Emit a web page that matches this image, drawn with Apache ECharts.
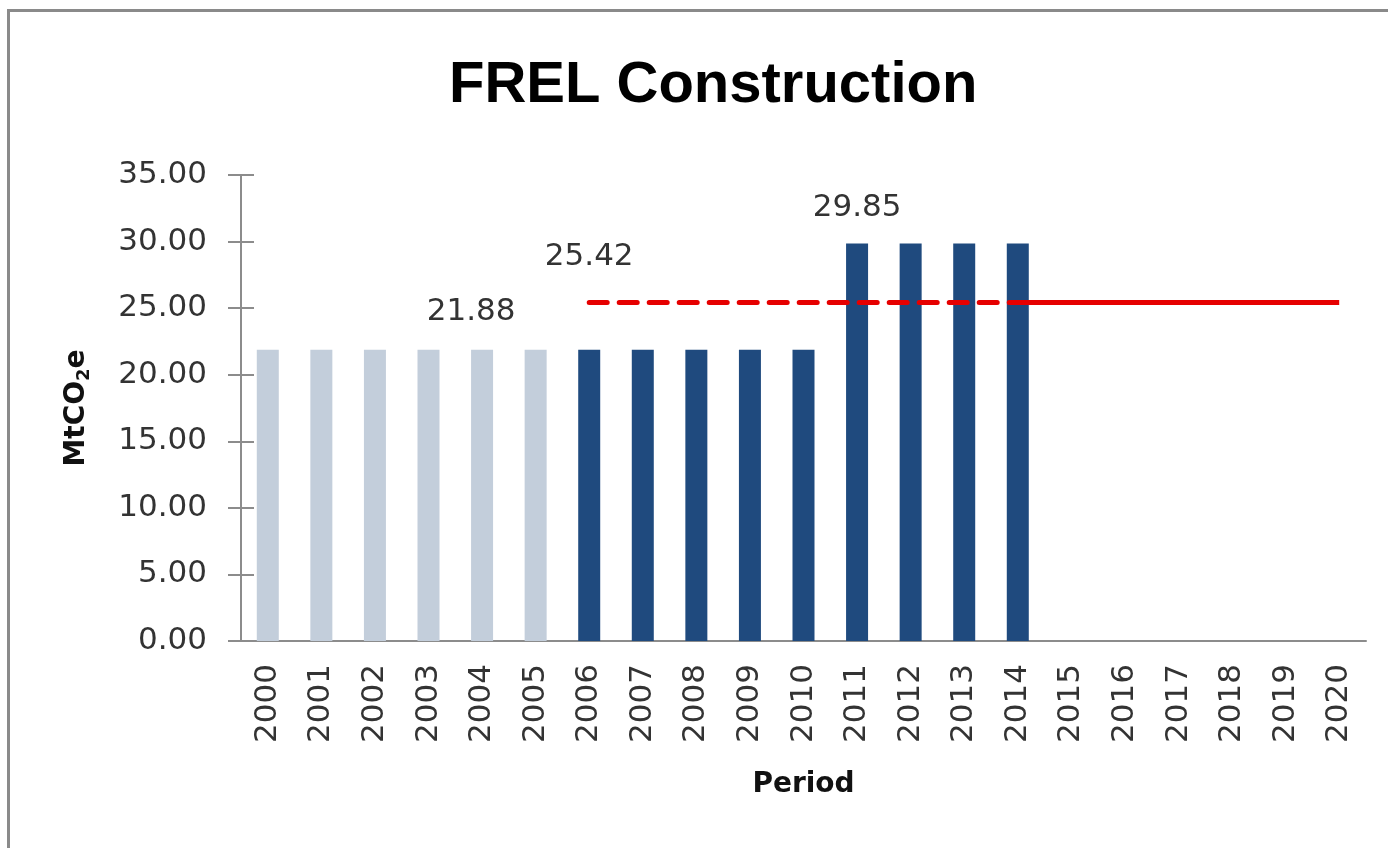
<!DOCTYPE html>
<html>
<head>
<meta charset="utf-8">
<title>FREL Construction</title>
<script src="https://cdn.jsdelivr.net/npm/echarts@6/dist/echarts.min.js"></script>
<style>
  html, body { margin: 0; padding: 0; background: #fff; }
  #chart { width: 1388px; height: 848px; }
  #frame {
    position: absolute; left: 7px; top: 9px; right: 0; bottom: 0;
    border-top: 3px solid #8a8a8a; border-left: 3px solid #8a8a8a;
    pointer-events: none;
  }
</style>
</head>
<body>
<div id="chart"></div>
<div id="frame"></div>
<script>
const years = ['2000', '2001', '2002', '2003', '2004', '2005', '2006', '2007', '2008', '2009', '2010',
  '2011', '2012', '2013', '2014', '2015', '2016', '2017', '2018', '2019', '2020'];

// historical period (light bars)
const historicBars = [21.88, 21.88, 21.88, 21.88, 21.88, 21.88, null, null, null, null, null,
  null, null, null, null, null, null, null, null, null, null];

// reference period (dark bars)
const referenceBars = [null, null, null, null, null, null, 21.88, 21.88, 21.88, 21.88, 21.88,
  29.85, 29.85, 29.85, 29.85, null, null, null, null, null, null];

// FREL level, dashed over the reference period, solid for the projection
const frelDashed = [null, null, null, null, null, null, 25.42, 25.42, 25.42, 25.42, 25.42,
  25.42, 25.42, 25.42, 25.42, null, null, null, null, null, null];
const frelSolid = [null, null, null, null, null, null, null, null, null, null, null,
  null, null, null, 25.42, 25.42, 25.42, 25.42, 25.42, 25.42, 25.42];

const yTicks = [0, 5, 10, 15, 20, 25, 30, 35];

// which point carries a value label
const historicLabelAt = 4;
const referenceLabelAt = 11;
const frelLabelAt = 6;

const chart = echarts.init(document.getElementById('chart'));

const labelFont = {
  fontFamily: 'DejaVu Sans',
  fontSize: 31,
  color: '#333333',
};

chart.setOption({
  animation: false,
  backgroundColor: '#ffffff',
  title: {
    text: 'FREL Construction',
    left: 444,
    top: 52,
    textStyle: {
      fontFamily: 'Liberation Sans',
      fontWeight: 'bold',
      fontSize: 58,
      color: '#000000',
    },
  },
  grid: {
    left: 241,
    right: 22,
    top: 175,
    bottom: 207,
  },
  xAxis: {
    type: 'category',
    data: years,
    name: 'Period',
    nameLocation: 'middle',
    nameGap: 130,
    nameTextStyle: {
      fontFamily: 'DejaVu Sans',
      fontWeight: 'bold',
      fontSize: 28,
      color: '#111111',
    },
    axisLine: { lineStyle: { color: '#8c8c8c', width: 2 } },
    axisTick: { interval: 0, length: 13, lineStyle: { color: '#8c8c8c', width: 2 } },
    axisLabel: {
      interval: 0,
      rotate: 90,
      margin: 23,
      ...labelFont,
    },
  },
  yAxis: [
    {
      type: 'value',
      min: yTicks[0],
      max: yTicks[yTicks.length - 1],
      interval: 5,
      name: '{a|MtCO}{s|2}{a|e}',
      nameLocation: 'middle',
      nameRotate: 90,
      nameGap: 148,
      nameTextStyle: {
        rich: {
          a: { fontFamily: 'DejaVu Sans', fontWeight: 'bold', fontSize: 28, color: '#111111' },
          s: { fontFamily: 'DejaVu Sans', fontWeight: 'bold', fontSize: 18, color: '#111111', padding: [14, 0, 0, 0] },
        },
      },
      splitLine: { show: false },
      axisLine: { show: true, lineStyle: { color: '#8c8c8c', width: 2 } },
      axisTick: { show: true, length: 13, lineStyle: { color: '#8c8c8c', width: 2 } },
      axisLabel: {
        margin: 34,
        formatter: (v) => v.toFixed(2),
        ...labelFont,
      },
    },
    {
      type: 'value',
      min: yTicks[0],
      max: yTicks[yTicks.length - 1],
      interval: 5,
      position: 'left',
      splitLine: { show: false },
      axisLine: { show: false },
      axisLabel: { show: false },
      axisTick: { show: true, inside: true, length: 13, lineStyle: { color: '#8c8c8c', width: 2 } },
    },
  ],
  series: [
    {
      type: 'bar',
      data: historicBars,
      barWidth: 22,
      barGap: '-100%',
      itemStyle: { color: '#c3cedb' },
      label: {
        show: true,
        position: 'top',
        distance: 22,
        offset: [-11, 0],
        formatter: (p) => (p.dataIndex === historicLabelAt ? p.value.toFixed(2) : ''),
        ...labelFont,
      },
    },
    {
      type: 'bar',
      data: referenceBars,
      barWidth: 22,
      barGap: '-100%',
      itemStyle: { color: '#1f4a7e' },
      label: {
        show: true,
        position: 'top',
        distance: 20,
        formatter: (p) => (p.dataIndex === referenceLabelAt ? p.value.toFixed(2) : ''),
        ...labelFont,
      },
    },
    {
      type: 'line',
      data: frelDashed,
      symbol: 'circle',
      symbolSize: 1,
      showSymbol: true,
      itemStyle: { color: 'rgba(0,0,0,0)' },
      z: 5,
      lineStyle: { color: '#e60000', width: 5, type: [18, 12], cap: 'round' },
      label: {
        show: true,
        position: 'top',
        distance: 30,
        formatter: (p) => (p.dataIndex === frelLabelAt ? p.value.toFixed(2) : ''),
        ...labelFont,
      },
    },
    {
      type: 'line',
      data: frelSolid,
      symbol: 'none',
      z: 5,
      lineStyle: { color: '#e60000', width: 5 },
    },
  ],
});
</script>
</body>
</html>
